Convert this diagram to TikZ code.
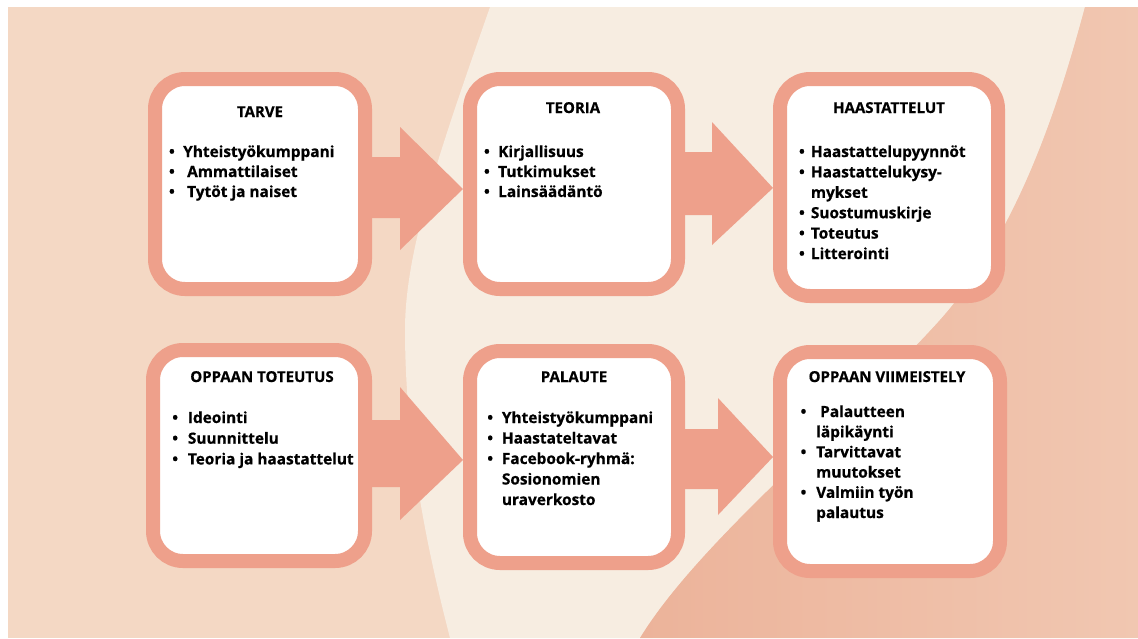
\documentclass[tikz,border=0pt]{standalone}
\usepackage{fontspec}
\setmainfont{Open Sans}
\newfontfamily\heavy{Open Sans}[BoldFeatures={FakeBold=0.6}]
\usetikzlibrary{calc}
\definecolor{salmon}{HTML}{EEA08B}
\definecolor{peach}{HTML}{F4D8C4}
\definecolor{cream}{HTML}{F7EDE1}
\definecolor{rust}{HTML}{ECB39A}
\definecolor{rustlight}{HTML}{F1C7B1}
\newcommand\items[6]{%
  \def\bu{\makebox[0pt]{•}\hspace*{#5pt}}%
  \def\cont{\hspace*{#5pt}}%
  \foreach \t [count=\i] in {#6} {
    \node[itm] (#1-\i) at ({#2},{#3+#4*(\i-1)}) {\t};
  }%
}
\begin{document}
\begin{tikzpicture}[x=1pt,y=-1pt,
  box/.style={draw=salmon, line width=14pt, fill=white, rounded corners=30pt, inner sep=0pt},
  ttl/.style={anchor=base, inner sep=0pt, font=\heavy\bfseries\fontsize{15}{20}\selectfont},
  itm/.style={anchor=base west, inner sep=0pt, font=\heavy\bfseries\fontsize{15.4}{20}\selectfont},
  blockarrow/.style={fill=salmon}]
\useasboundingbox (0,0) rectangle (1138,638);
% background
\fill[white] (0,0) rectangle (1138,638);
\fill[peach] (8,7) rectangle (1138,638);
\fill[cream] (490,7) .. controls (440,150) and (405,250) .. (405,330)
  .. controls (405,450) and (430,560) .. (450,638) -- (640,638)
  .. controls (700,540) and (850,420) .. (940,320)
  .. controls (1020,230) and (1060,100) .. (1085,7) -- cycle;
\shade[left color=rust, right color=rustlight] (1085,7) -- (1138,7) -- (1138,638) -- (640,638)
  .. controls (700,540) and (850,420) .. (940,320)
  .. controls (1020,230) and (1060,100) .. (1085,7) -- cycle;
% boxes
\node[box, minimum width=210pt, minimum height=210pt] (b1) at (260,184) {};
\node[box, minimum width=208pt, minimum height=210pt] (b2) at (574,184) {};
\node[box, minimum width=218pt, minimum height=217pt] (b3) at (889,187.5) {};
\node[box, minimum width=212pt, minimum height=211pt] (b4) at (259,455.5) {};
\node[box, minimum width=208pt, minimum height=212pt] (b5) at (574,457) {};
\node[box, minimum width=220pt, minimum height=219pt] (b6) at (890,461.5) {};
% arrows
\fill[blockarrow] ([xshift=-3pt]b1.east |- 0,157) -- (400,157) -- (400,127) -- (b2.west |- 0,189)
  -- (400,250) -- (400,218) -- ([xshift=-3pt]b1.east |- 0,218) -- cycle;
\fill[blockarrow] ([xshift=-3pt]b2.east |- 0,152) -- (712,152) -- (712,122) -- (b3.west |- 0,188)
  -- (712,245) -- (712,215) -- ([xshift=-3pt]b2.east |- 0,215) -- cycle;
\fill[blockarrow] ([xshift=-3pt]b4.east |- 0,420) -- (400,420) -- (400,387) -- (b5.west |- 0,460)
  -- (400,520) -- (400,487) -- ([xshift=-3pt]b4.east |- 0,487) -- cycle;
\fill[blockarrow] ([xshift=-3pt]b5.east |- 0,429) -- (718,429) -- (718,398) -- (b6.west |- 0,457)
  -- (718,515) -- (718,489) -- ([xshift=-3pt]b5.east |- 0,489) -- cycle;
% titles
\node[ttl] (t1) at (260,117) {TARVE};
\node[ttl] (t2) at (573,113) {TEORIA};
\node[ttl] (t3) at (889,113) {HAASTATTELUT};
\node[ttl] (t4) at (262,382) {OPPAAN TOTEUTUS};
\node[ttl] (t5) at (574,382) {PALAUTE};
\node[ttl] (t6) at (887,382) {OPPAAN VIIMEISTELY};
% lists
\items{l1}{171.7}{157}{20}{11.3}{\bu Yhteistyökumppani, \bu\ Ammattilaiset, \bu\ Tytöt ja naiset}
\items{l2}{486.7}{157}{20}{11.3}{\bu Kirjallisuus, \bu Tutkimukset, \bu Lainsäädäntö}
\items{l3}{801.7}{157}{20.4}{9}{\bu Haastattelupyynnöt, \bu Haastattelukysy-, \cont mykset, \bu Suostumuskirje, \bu Toteutus, \bu Litterointi}
\items{l4}{175}{423}{20.7}{12.7}{\bu Ideointi, \bu Suunnittelu, \bu Teoria ja haastattelut}
\items{l5}{490}{423}{20.5}{11.7}{\bu Yhteistyökumppani, \bu Haastateltavat, \bu Facebook-ryhmä:, \cont Sosionomien, \cont uraverkosto}
\items{l6}{803.3}{417}{20.2}{12.7}{\bu\ Palautteen, \cont läpikäynti, \bu Tarvittavat, \cont muutokset, \bu Valmiin työn, \cont palautus}
\end{tikzpicture}
\end{document}
